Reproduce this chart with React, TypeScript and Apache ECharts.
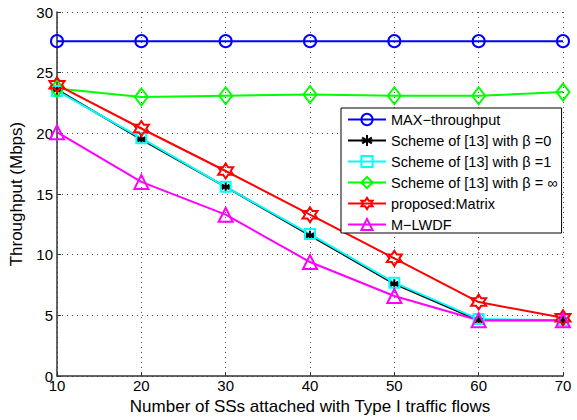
import React, { useEffect, useRef } from "react";
import * as echarts from "echarts";

const xValues = [10, 20, 30, 40, 50, 60, 70];
const maxThroughput = [27.6, 27.6, 27.6, 27.6, 27.6, 27.6, 27.6];
const schemeBeta0 = [23.6, 19.5, 15.6, 11.6, 7.6, 4.6, 4.6];
const schemeBeta1 = [23.5, 19.6, 15.6, 11.7, 7.7, 4.7, 4.6];
const schemeBetaInf = [23.7, 23.0, 23.1, 23.2, 23.1, 23.1, 23.4];
const proposedMatrix = [24.0, 20.4, 16.9, 13.3, 9.7, 6.1, 4.8];
const mLwdf = [20.1, 16.0, 13.3, 9.4, 6.6, 4.6, 4.6];

const seriesNames = [
  "MAX\u2212throughput",
  "Scheme of [13] with \u03b2 =0",
  "Scheme of [13] with \u03b2 =1",
  "Scheme of [13] with \u03b2 = \u221e",
  "proposed:Matrix",
  "M\u2212LWDF",
];

const hexagram = (() => {
  const pts: string[] = [];
  for (let i = 0; i < 12; i++) {
    const ang = (-90 + i * 30) * (Math.PI / 180);
    const r = i % 2 === 0 ? 1 : 0.577;
    pts.push(`${(r * Math.cos(ang)).toFixed(3)},${(r * Math.sin(ang)).toFixed(3)}`);
  }
  return "path://M" + pts.join("L") + "Z";
})();

const asterisk =
  "path://M0,-1L0,1M-0.87,-0.5L0.87,0.5M-0.87,0.5L0.87,-0.5M-1,0L1,0";

export default function App() {
  const ref = useRef<HTMLDivElement>(null);
  useEffect(() => {
    if (!ref.current) return;
    const chart = echarts.init(ref.current, null, { renderer: "svg" });
    const font = "Liberation Sans, Arial, Helvetica, sans-serif";
    const mk = (
      name: string,
      data: number[],
      color: string,
      symbol: string,
      size: number | number[],
      fill: string
    ) => ({
      name,
      type: "line",
      data: xValues.map((x, i) => [x, data[i]]),
      symbol,
      symbolSize: size,
      showAllSymbol: true,
      lineStyle: { color, width: 2 },
      itemStyle: { color: fill, borderColor: color, borderWidth: 2 },
      emphasis: { disabled: true },
      z: 3,
    });
    chart.setOption({
      animation: false,
      backgroundColor: "#ffffff",
      textStyle: { fontFamily: font },
      grid: { left: 57, right: 14, top: 12, bottom: 42, containLabel: false },
      xAxis: {
        type: "value",
        min: 10,
        max: 70,
        interval: 10,
        name: "Number of SSs attached with Type I traffic flows",
        nameLocation: "middle",
        nameGap: 14,
        nameTextStyle: { fontSize: 17, color: "#000", fontFamily: font },
        axisLine: { onZero: false, lineStyle: { color: "#333", width: 1.5 } },
        axisTick: { inside: true, length: 4, lineStyle: { color: "#333" } },
        axisLabel: { fontSize: 15, color: "#000", margin: 2, fontFamily: font },
        splitLine: {
          show: true,
          lineStyle: { color: "#555", type: [1, 4], width: 1 },
        },
      },
      yAxis: {
        type: "value",
        min: 0,
        max: 30,
        interval: 5,
        name: "Throughput (Mbps)",
        nameLocation: "middle",
        nameGap: 28,
        nameTextStyle: { fontSize: 17, color: "#000", fontFamily: font },
        axisLine: { show: true, lineStyle: { color: "#333", width: 1.5 } },
        axisTick: { show: true, inside: true, length: 4, lineStyle: { color: "#333" } },
        axisLabel: { fontSize: 15, color: "#000", margin: 4, fontFamily: font },
        splitLine: {
          show: true,
          lineStyle: { color: "#555", type: [1, 4], width: 1 },
        },
      },
      legend: {
        orient: "vertical",
        left: 341,
        top: 108,
        backgroundColor: "#ffffff",
        borderColor: "#000",
        borderWidth: 1,
        borderRadius: 0,
        padding: [4, 4, 1, 6],
        itemWidth: 38,
        itemHeight: 14,
        itemGap: 6,
        textStyle: { fontSize: 14.5, color: "#000", fontFamily: font },
        data: seriesNames,
      },
      series: [
        mk(seriesNames[0], maxThroughput, "#0000ff", "circle", 12, "transparent"),
        mk(seriesNames[1], schemeBeta0, "#000000", asterisk, 9, "#000000"),
        mk(seriesNames[2], schemeBeta1, "#00ffff", "rect", 10, "transparent"),
        mk(seriesNames[3], schemeBetaInf, "#00ff00", "diamond", [13, 17], "transparent"),
        mk(seriesNames[4], proposedMatrix, "#ff0000", hexagram, 15, "transparent"),
        mk(seriesNames[5], mLwdf, "#ff00ff", "triangle", 14, "transparent"),
      ],
    });
    return () => chart.dispose();
  }, []);
  return (
    <div
      ref={ref}
      style={{ position: "absolute", left: 0, top: 0, width: 577, height: 420 }}
    />
  );
}
